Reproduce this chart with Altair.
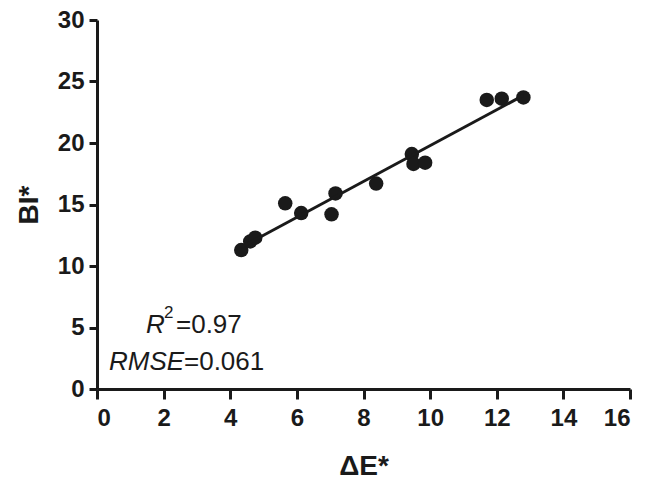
import altair as alt
import pandas as pd

delta_e = [4.33, 4.6, 4.75, 5.65, 6.13, 7.04, 7.16, 8.38, 9.45, 9.5, 9.85, 11.7, 12.15, 12.8]
bi = [11.3, 12.0, 12.3, 15.1, 14.3, 14.2, 15.9, 16.7, 19.1, 18.3, 18.4, 23.5, 23.6, 23.7]

x_ticks = [0, 2, 4, 6, 8, 10, 12, 14, 16]
y_ticks = [0, 5, 10, 15, 20, 25, 30]

df = pd.DataFrame({"x": delta_e, "y": bi})

INK = "#1a1a1a"
FONT = "Liberation Sans, Arial, sans-serif"

xscale = alt.Scale(domain=[0, 16], nice=False, zero=False)
yscale = alt.Scale(domain=[0, 30], nice=False, zero=False)

xaxis = alt.Axis(values=x_ticks, title="ΔE*", grid=False, domainColor=INK, domainWidth=3,
                 tickColor=INK, tickWidth=3, tickSize=10, labelFont=FONT, labelFontSize=24,
                 labelFontWeight="bold", labelColor=INK, labelPadding=7, titleFont=FONT,
                 titleFontSize=28, titleFontWeight="bold", titleColor=INK, titlePadding=22)
yaxis = alt.Axis(values=y_ticks, title="BI*", grid=False, domainColor=INK, domainWidth=3,
                 tickColor=INK, tickWidth=3, tickSize=8, labelFont=FONT, labelFontSize=24,
                 labelFontWeight="bold", labelColor=INK, labelPadding=5, titleFont=FONT,
                 titleFontSize=28, titleFontWeight="bold", titleColor=INK, titlePadding=14)

base = alt.Chart(df)

points = base.mark_circle(size=210, color=INK, opacity=1).encode(
    x=alt.X("x:Q", scale=xscale, axis=xaxis),
    y=alt.Y("y:Q", scale=yscale, axis=yaxis),
)

fit = base.transform_regression("x", "y").mark_line(color=INK, strokeWidth=3).encode(
    x=alt.X("x:Q", scale=xscale),
    y=alt.Y("y:Q", scale=yscale),
)

def txt(s, x, y, size=26, style="normal"):
    return alt.Chart(pd.DataFrame({"t": [s]})).mark_text(
        align="left", baseline="alphabetic", font=FONT, fontSize=size,
        fontStyle=style, color=INK
    ).encode(text="t:N", x=alt.value(x), y=alt.value(y))

ann = (
    txt("R", 49, 313, style="italic")
    + txt("2", 67, 298, size=17)
    + txt("=0.97", 79, 313)
    + txt("RMSE", 12, 350, style="italic")
    + txt("=0.061", 87, 350)
)

chart = (points + fit + ann).properties(
    width=533, height=369,
    autosize=alt.AutoSizeParams(type="none"),
    padding={"left": 89, "top": 12, "right": 20, "bottom": 95},
).configure_view(stroke=None)

chart.save("out.html", embed_options={"renderer": "svg", "actions": False})
